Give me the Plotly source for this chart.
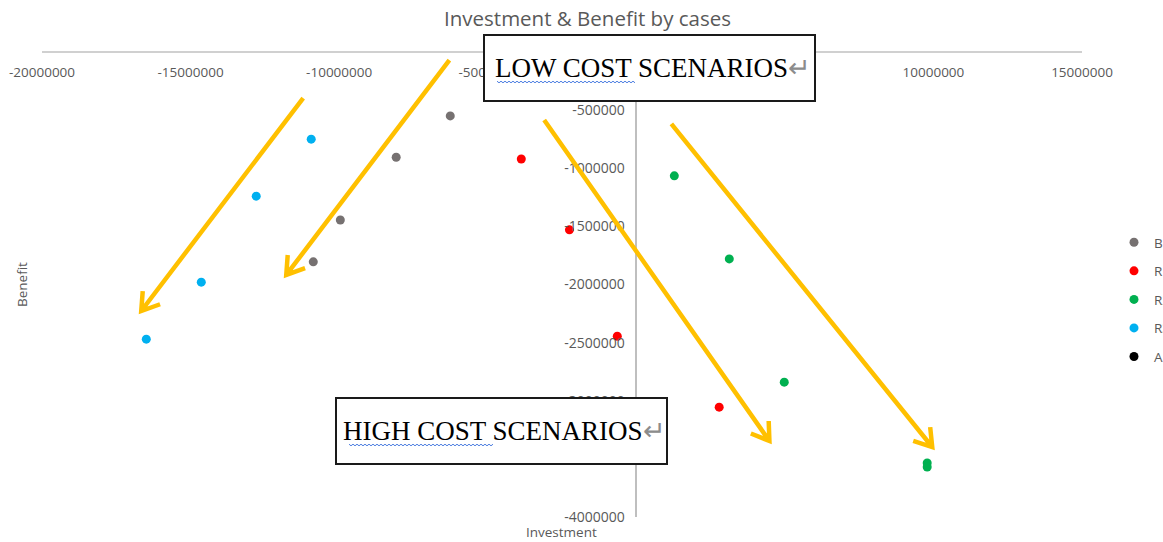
import math
import plotly.graph_objects as go

# ---- data: investment (x) and benefit (y) per case ----
b_invest = [-6260000, -8080000, -9960000, -10870000]
b_benefit = [-550000, -905000, -1445000, -1805000]

r1_invest = [-3870000, -2250000, -640000, 2790000]
r1_benefit = [-920000, -1530000, -2445000, -3055000]

r2_invest = [1280000, 3130000, 4980000, 9790000, 9790000]
r2_benefit = [-1065000, -1780000, -2840000, -3535000, -3570000]

r3_invest = [-10940000, -12790000, -14640000, -16490000]
r3_benefit = [-750000, -1240000, -1980000, -2470000]

# case A has no plotted value
a_invest = [None]
a_benefit = [None]

x_tick_values = [-20000000, -15000000, -10000000, -5000000, 0, 5000000, 10000000, 15000000]
x_tick_labels = [str(v) for v in x_tick_values]
y_tick_values = [0, -500000, -1000000, -1500000, -2000000, -2500000,
                 -3000000, -3500000, -4000000]
y_tick_labels = [str(v) for v in y_tick_values]

# ---- layout geometry ----
W, H = 1163, 542
ML, MR, MT, MB = 42, 81, 52, 25
PW, PH = W - ML - MR, H - MT - MB
X_RANGE = [-20000000, 15000000]
Y_RANGE = [-4000000, 0]
Y_AXIS_AT = 0  # vertical axis crosses at investment = 0

GREY_TEXT = "#595959"
ORANGE = "#FFC000"


def data_to_px(x, y):
    px = ML + (x - X_RANGE[0]) / (X_RANGE[1] - X_RANGE[0]) * PW
    py = MT + (Y_RANGE[1] - y) / (Y_RANGE[1] - Y_RANGE[0]) * PH
    return px, py


def px_to_paper(px, py):
    return (px - ML) / PW, (H - MB - py) / PH


fig = go.Figure()

series = [
    ("B", b_invest, b_benefit, "#767171"),
    ("R1", r1_invest, r1_benefit, "#FF0000"),
    ("R2", r2_invest, r2_benefit, "#00B050"),
    ("R3", r3_invest, r3_benefit, "#00B0F0"),
    ("A", a_invest, a_benefit, "#000000"),
]
for name, xs, ys, color in series:
    fig.add_trace(go.Scatter(
        x=xs, y=ys, mode="markers", name=name, legendgroup=name,
        marker=dict(color=color, size=9, line=dict(width=0)),
    ))

# ---- trend arrows (start, tip) in data units ----
arrows = [
    ((-11210000, -396000), (-16660000, -2228000)),
    ((-6290000, -69000), (-11780000, -1918000)),
    ((-3100000, -585000), (4480000, -3346000)),
    ((1180000, -619000), (9960000, -3398000)),
]

shapes = []
HEAD_LEN, HEAD_ANG = 20, math.radians(33)
for (x0, y0), (x1, y1) in arrows:
    sx, sy = data_to_px(x0, y0)
    tx, ty = data_to_px(x1, y1)
    d = math.hypot(sx - tx, sy - ty)
    ux, uy = (sx - tx) / d, (sy - ty) / d
    pts = []
    for a in (HEAD_ANG, -HEAD_ANG):
        rx = ux * math.cos(a) - uy * math.sin(a)
        ry = ux * math.sin(a) + uy * math.cos(a)
        pts.append((tx + HEAD_LEN * rx, ty + HEAD_LEN * ry))
    p = [px_to_paper(*q) for q in [(sx, sy), (tx, ty), pts[0], (tx, ty), pts[1]]]
    path = (f"M {p[0][0]} {p[0][1]} L {p[1][0]} {p[1][1]} "
            f"M {p[2][0]} {p[2][1]} L {p[3][0]} {p[3][1]} L {p[4][0]} {p[4][1]}")
    shapes.append(dict(type="path", path=path, xref="paper", yref="paper",
                       line=dict(color=ORANGE, width=4.5), layer="above"))

# ---- scenario callout boxes ----
boxes = [
    ((484, 35, 815, 101), "LOW COST", " SCENARIOS", (497, 635, 82)),
    ((336, 398, 667, 464), "HIGH COST", " SCENARIOS", (349, 494, 445)),
]
annotations = []
for (bx0, by0, bx1, by1), first, rest, (ux0, ux1, uy) in boxes:
    p0 = px_to_paper(bx0, by1)
    p1 = px_to_paper(bx1, by0)
    shapes.append(dict(type="rect", xref="paper", yref="paper",
                       x0=p0[0], y0=p0[1], x1=p1[0], y1=p1[1],
                       fillcolor="white", line=dict(color="#1a1a1a", width=2),
                       layer="above"))
    # spell-check style wavy underline
    pts = []
    xx, k = ux0, 0
    while xx <= ux1:
        pts.append(px_to_paper(xx, uy + (0.8 if k % 2 else -0.8)))
        xx += 2
        k += 1
    wpath = "M " + " L ".join(f"{a} {b}" for a, b in pts)
    shapes.append(dict(type="path", path=wpath, xref="paper", yref="paper",
                       line=dict(color="#4a7ce0", width=1), layer="above"))
    cx, cy = px_to_paper((bx0 + bx1) / 2 + 3, (by0 + by1) / 2)
    annotations.append(dict(
        x=cx, y=cy, xref="paper", yref="paper", showarrow=False,
        xanchor="center", yanchor="middle",
        text=f"{first}{rest}<span style='color:#8c8c8c'>↵</span>",
        font=dict(family="Liberation Serif", size=27, color="#000000"),
    ))

# chart and axis titles
annotations.append(dict(
    x=px_to_paper(587, 0)[0], y=px_to_paper(0, 18)[1], xref="paper", yref="paper",
    showarrow=False, xanchor="center", yanchor="middle",
    text="Investment &amp; Benefit by cases",
    font=dict(family="Open Sans", size=20.5, color=GREY_TEXT),
))
annotations.append(dict(
    x=px_to_paper(561, 0)[0], y=px_to_paper(0, 532)[1], xref="paper", yref="paper",
    showarrow=False, xanchor="center", yanchor="middle", text="Investment",
    font=dict(family="Open Sans", size=13.5, color=GREY_TEXT),
))
annotations.append(dict(
    x=px_to_paper(22, 0)[0], y=px_to_paper(0, 285)[1], xref="paper", yref="paper",
    showarrow=False, xanchor="center", yanchor="middle", text="Benefit",
    textangle=-90, font=dict(family="Open Sans", size=13.5, color=GREY_TEXT),
))

y_axis_pos = (data_to_px(Y_AXIS_AT, 0)[0] - ML) / PW

fig.update_layout(
    width=W, height=H, autosize=False,
    margin=dict(l=ML, r=MR, t=MT, b=MB, pad=0, autoexpand=False),
    paper_bgcolor="white", plot_bgcolor="white",
    font=dict(family="Open Sans", size=13, color=GREY_TEXT),
    xaxis=dict(
        range=X_RANGE, anchor="free", position=1, side="bottom",
        tickvals=x_tick_values, ticktext=x_tick_labels, ticklabelstandoff=8,
        showgrid=False, zeroline=False, showline=True,
        linecolor="#d0d0d0", linewidth=1.5, ticks="",
        tickfont=dict(family="Open Sans", size=13.5, color=GREY_TEXT),
    ),
    yaxis=dict(
        range=Y_RANGE, anchor="free", position=y_axis_pos,
        tickvals=y_tick_values, ticktext=y_tick_labels, ticklabelstandoff=8,
        showgrid=False, zeroline=False, showline=True,
        linecolor="#bfbfbf", linewidth=1.5, ticks="",
        tickfont=dict(family="Open Sans", size=14, color=GREY_TEXT),
    ),
    legend=dict(
        x=(1114 - ML) / PW, xanchor="left", y=px_to_paper(0, 227)[1], yanchor="top",
        bgcolor="rgba(0,0,0,0)", tracegroupgap=8,
        font=dict(family="Open Sans", size=13.5, color=GREY_TEXT),
    ),
    shapes=shapes,
    annotations=annotations,
    showlegend=True,
)

fig.write_html("out.html")
